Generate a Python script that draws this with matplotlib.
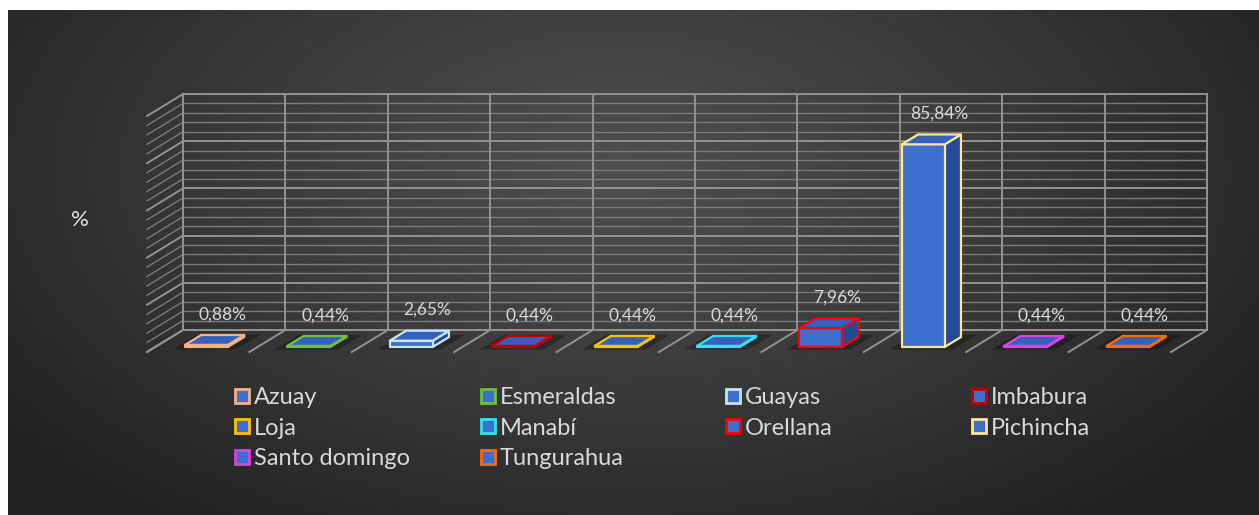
import numpy as np
import matplotlib.pyplot as plt
from matplotlib.patches import Polygon, Rectangle

plt.rcParams['font.family'] = ['Lato', 'DejaVu Sans']

provincias = ["Azuay", "Esmeraldas", "Guayas", "Imbabura", "Loja",
              "Manabí", "Orellana", "Pichincha", "Santo domingo", "Tungurahua"]
porcentajes = [0.88, 0.44, 2.65, 0.44, 0.44, 0.44, 7.96, 85.84, 0.44, 0.44]
bordes = ["#f4b183", "#70c040", "#c5e3f0", "#c00000", "#ffc000",
          "#33e0f0", "#ff0000", "#ffe699", "#e040e0", "#ff6a00"]

W, H = 1259, 515
fig = plt.figure(figsize=(W / 100, H / 100), dpi=100, facecolor="white")

# fondo oscuro con degradado radial
bg = fig.add_axes([8 / W, 0, 1 - 8 / W, 1 - 10 / H])
bw, bh = W - 8, H - 10
yy, xx = np.mgrid[0:bh, 0:bw]
r = np.sqrt(((xx - 610) / 780) ** 2 + ((yy - 160) / 440) ** 2)
gris = 0.31 - 0.18 * np.clip(r, 0, 1) ** 1.1
bg.imshow(np.dstack([gris, gris, gris]), aspect="auto", interpolation="bilinear")
bg.axis("off")

# ejes principales: x en categorías, y en %
ax = fig.add_axes([0, 0, 1, 1], facecolor="none")
px_cat, px_pct = 102.4, 2.36
x0px, y0px = 183, 330
ax.set_xlim(-x0px / px_cat, (W - x0px) / px_cat)
ax.set_ylim((y0px - H) / px_pct, y0px / px_pct)
ax.axis("off")

# desplazamiento de profundidad (de la pared al borde frontal)
DX, DY = -36 / px_cat, -22 / px_pct


def prof(x, y, d):
    return (x + DX * d, y + DY * d)


n = len(provincias)
niveles = np.arange(0, 101, 4)
for v in niveles:
    mayor = v % 20 == 0
    c = "#939393" if mayor else "#7c7c7c"
    lw = 1.4 if mayor else 1.0
    ax.plot([0, n], [v, v], color=c, lw=lw, zorder=1)
    ax.plot([0, DX], [v, v + DY], color=c, lw=lw, zorder=1)
for i in range(n + 1):
    ax.plot([i, i], [0, 100], color="#939393", lw=1.4, zorder=1)
    ax.plot([i, i + DX], [0, DY], color="#939393", lw=1.4, zorder=1)

# barras 3D
d_front, d_back = 0.77, 0.32
ancho = 0.42
for i, (v, col) in enumerate(zip(porcentajes, bordes)):
    xa, xb = i + 0.5 - ancho / 2, i + 0.5 + ancho / 2
    sombra = [prof(xa - 0.08, 0, d_front + 0.12), prof(xb + 0.12, 0, d_front + 0.12),
              prof(xb + 0.12, 0, d_back - 0.1), prof(xa - 0.08, 0, d_back - 0.1)]
    ax.add_patch(Polygon(sombra, closed=True, facecolor="black", alpha=0.3,
                         edgecolor="none", zorder=2))
    frente = [prof(xa, 0, d_front), prof(xb, 0, d_front),
              prof(xb, v, d_front), prof(xa, v, d_front)]
    lado = [prof(xb, 0, d_front), prof(xb, 0, d_back),
            prof(xb, v, d_back), prof(xb, v, d_front)]
    tapa = [prof(xa, v, d_front), prof(xb, v, d_front),
            prof(xb, v, d_back), prof(xa, v, d_back)]
    for pts, fc in ((lado, "#244b98"), (frente, "#3d6fd0"), (tapa, "#3462ba")):
        ax.add_patch(Polygon(pts, closed=True, facecolor=fc, edgecolor=col,
                             lw=1.6, joinstyle="round", zorder=3))
    lx, ly = prof(i + 0.5, v, d_back)
    ax.annotate(f"{v:.2f}%".replace(".", ","), (lx, ly), xytext=(0, 15),
                textcoords="offset points", ha="center", va="center",
                color="#d9d9d9", fontsize=12.5, zorder=5)

fig.text(80 / W, 1 - 220 / H, "%", color="#e6e6e6", fontsize=16,
         ha="center", va="center")

# leyenda en cuadrícula de 4 columnas
for k, (nombre, col) in enumerate(zip(provincias, bordes)):
    cx = 242 + (k % 4) * 245.5
    cy = 396 + (k // 4) * 30.3
    fig.add_artist(Rectangle(((cx - 7) / W, 1 - (cy + 7) / H), 14 / W, 14 / H,
                             facecolor="#3d6fd0", edgecolor=col, lw=2,
                             transform=fig.transFigure))
    fig.text((cx + 12) / W, 1 - cy / H, nombre, color="#d9d9d9", fontsize=17,
             ha="left", va="center_baseline")

fig.savefig("out.png", dpi=100, facecolor="white")
